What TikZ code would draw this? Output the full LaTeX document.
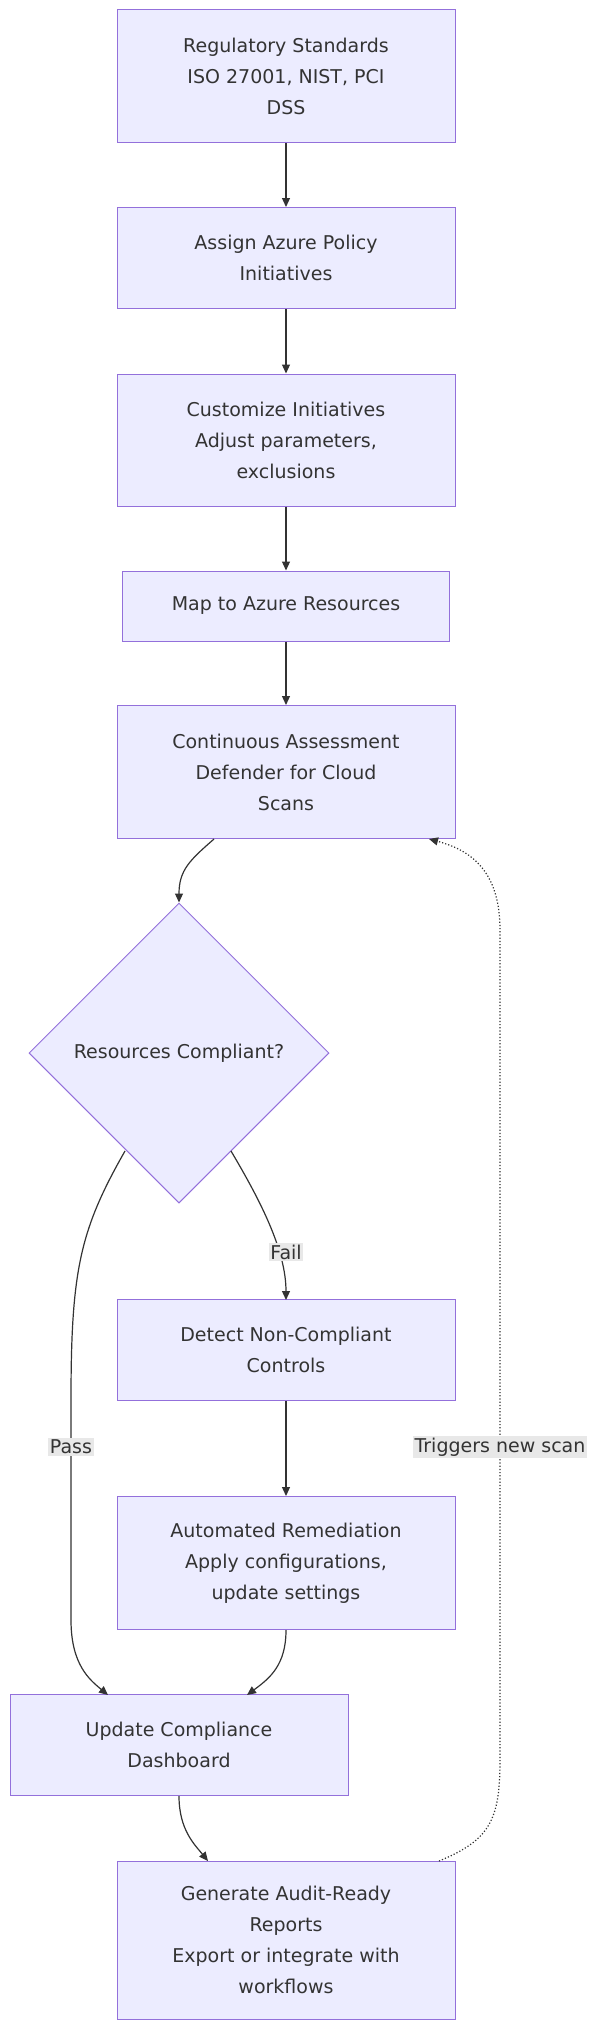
\documentclass[tikz,border=0pt]{standalone}
\usepackage{fontspec}
\setmainfont{DejaVu Sans}
\usetikzlibrary{arrows.meta,shapes.geometric}
\definecolor{nfill}{HTML}{ECECFF}
\definecolor{ndraw}{HTML}{9370DB}
\definecolor{txt}{HTML}{333333}
\definecolor{lbl}{HTML}{E8E8E8}
\begin{document}
\begin{tikzpicture}[x=1pt,y=-1pt,
  box/.style={draw=ndraw,fill=nfill,line width=1pt,align=center,text=txt,font=\fontsize{19}{31}\selectfont,inner sep=0pt},
  edge/.style={draw=txt,line width=1.2pt,-{Triangle[length=9pt,width=8pt]}},
  lab/.style={fill=lbl,text=txt,font=\fontsize{19}{22}\selectfont,inner sep=1.5pt}]
\useasboundingbox (0,0) rectangle (600,2022);
\node[box,minimum width=338,minimum height=133] (a) at (286,76) {Regulatory Standards\\ISO 27001, NIST, PCI\\DSS};
\node[box,minimum width=338,minimum height=101] (b) at (286,258) {Assign Azure Policy\\Initiatives};
\node[box,minimum width=338,minimum height=132] (c) at (286,440) {Customize Initiatives\\Adjust parameters,\\exclusions};
\node[box,minimum width=327,minimum height=70] (d) at (286,606) {Map to Azure Resources};
\node[box,minimum width=338,minimum height=133] (e) at (286,772) {Continuous Assessment\\Defender for Cloud\\Scans};
\node[box,diamond,minimum width=300,minimum height=300] (f) at (179,1053) {Resources Compliant?};
\node[box,minimum width=338,minimum height=101] (g) at (286,1350) {Detect Non-Compliant\\Controls};
\node[box,minimum width=338,minimum height=133] (h) at (286,1563) {Automated Remediation\\Apply configurations,\\update settings};
\node[box,minimum width=338,minimum height=101] (i) at (179,1745) {Update Compliance\\Dashboard};
\node[box,minimum width=338,minimum height=158] (j) at (286,1940) {Generate Audit-Ready\\Reports\\Export or integrate with\\workflows};
\draw[edge] (a) -- (b);
\draw[edge] (b) -- (c);
\draw[edge] (c) -- (d);
\draw[edge] (d) -- (e);
\draw[edge] (g) -- (h);
\draw[edge] (214,839) .. controls (190,860) and (179,870) .. (f.north);
\draw[edge] (125,1151) .. controls (80,1230) and (71,1270) .. (71,1400) -- (71,1620) .. controls (71,1665) and (90,1680) .. (108,1695);
\node[lab] (pass) at (71,1447) {Pass};
\draw[edge] (231,1151) .. controls (260,1200) and (286,1250) .. (286,1300);
\node[lab] (fail) at (286,1252) {Fail};
\draw[edge] (h.south) .. controls (286,1665) and (270,1678) .. (247,1695);
\draw[edge] (i.south) .. controls (179,1830) and (195,1845) .. (208,1861);
\draw[draw=txt,line width=1.2pt,dotted,-{Triangle[length=9pt,width=8pt]}] (439,1861) .. controls (490,1840) and (500,1820) .. (500,1760) -- (500,930) .. controls (500,870) and (470,850) .. (429,839);
\node[lab] (trig) at (500,1447) {Triggers new scan};
\end{tikzpicture}
\end{document}
